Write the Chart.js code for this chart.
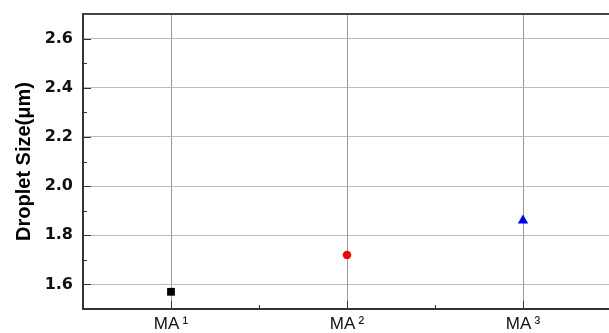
<!DOCTYPE html>
<html>
<head>
<meta charset="utf-8">
<script src="https://cdn.jsdelivr.net/npm/chart.js@4/dist/chart.umd.min.js"></script>
<style>
  html, body { margin: 0; padding: 0; background: #fff; overflow: hidden; }
</style>
</head>
<body>
<canvas id="droplet-chart" width="612" height="333"></canvas>
<script>
const samples = ['MA\u2009\u00B9', 'MA\u2009\u00B2', 'MA\u2009\u00B3'];
const dropletSize = [1.57, 1.72, 1.86];
const markerStyles = ['rect', 'circle', 'triangle'];
const markerColors = ['#000000', '#ff0000', '#0000ff'];
const markerSizes = [5.5, 4.2, 6];

const ctx = document.getElementById('droplet-chart').getContext('2d');

// inner tick marks + top frame line
const frameTicks = {
	id: 'frameTicks',
	afterDraw(chart) {
		const c = chart.ctx;
		const area = chart.chartArea;
		const xs = chart.scales.x;
		const ys = chart.scales.y;
		c.save();
		c.strokeStyle = '#333';
		c.lineWidth = 1;
		ys.ticks.forEach(t => {
			const major = Math.round(t.value * 10) % 2 === 0;
			const py = Math.round(ys.getPixelForValue(t.value)) + 0.5;
			c.beginPath();
			c.moveTo(area.left, py);
			c.lineTo(area.left + (major ? 8 : 4), py);
			c.stroke();
		});
		xs.ticks.forEach(t => {
			const major = Number.isInteger(t.value);
			const px = Math.round(xs.getPixelForValue(t.value)) + 0.5;
			c.beginPath();
			c.moveTo(px, area.bottom);
			c.lineTo(px, area.bottom - (major ? 8 : 4));
			c.stroke();
		});
		c.strokeStyle = '#444';
		c.lineWidth = 2;
		c.beginPath();
		c.moveTo(area.left, area.top);
		c.lineTo(area.right, area.top);
		c.stroke();
		c.restore();
	}
};

new Chart(ctx, {
	type: 'scatter',
	data: {
		datasets: [{
			data: dropletSize.map((v, i) => ({ x: i, y: v })),
			pointStyle: markerStyles,
			backgroundColor: markerColors,
			borderColor: markerColors,
			pointRadius: markerSizes,
			pointHoverRadius: markerSizes,
			borderWidth: 0,
		}]
	},
	options: {
		responsive: false,
		animation: false,
		layout: { autoPadding: false, padding: { top: 14, right: 1, left: 0, bottom: 0 } },
		plugins: {
			legend: { display: false },
			tooltip: { enabled: false },
		},
		scales: {
			x: {
				type: 'linear',
				min: -0.5,
				max: 2.5,
				afterFit(scale) {
					scale.height = 24;
					scale.paddingLeft = 0;
					scale.paddingRight = 0;
				},
				border: { display: true, color: '#333', width: 2 },
				grid: {
					drawTicks: false,
					color: c => Number.isInteger(c.tick.value) ? '#999' : 'rgba(0,0,0,0)',
					lineWidth: 1,
				},
				ticks: {
					stepSize: 0.5,
					padding: 5,
					color: '#111',
					font: { family: 'Arial, "Liberation Sans", sans-serif', size: 17 },
					callback: v => Number.isInteger(v) && v >= 0 && v < samples.length ? samples[v] : '',
				},
			},
			y: {
				min: 1.5,
				max: 2.7,
				afterFit(scale) {
					scale.width = 83;
					scale.paddingTop = 0;
					scale.paddingBottom = 0;
				},
				border: { display: true, color: '#333', width: 2 },
				grid: {
					drawTicks: false,
					color: c => Math.round(c.tick.value * 10) % 2 === 0 ? '#bbb' : 'rgba(0,0,0,0)',
					lineWidth: 1,
				},
				ticks: {
					stepSize: 0.1,
					padding: 10,
					color: '#111',
					font: { family: '"DejaVu Sans", sans-serif', size: 16, weight: 'bold' },
					callback: v => {
						const n = Math.round(v * 10);
						return (n % 2 === 0 && n > 15 && n < 27) ? (n / 10).toFixed(1) : '';
					},
				},
				title: {
					display: true,
					text: 'Droplet Size(\u03BCm)',
					color: '#000',
					padding: { top: 12, bottom: 2 },
					font: { family: 'Arial, "Liberation Sans", sans-serif', size: 20, weight: 'bold' },
				},
			},
		},
	},
	plugins: [frameTicks],
});
</script>
</body>
</html>
